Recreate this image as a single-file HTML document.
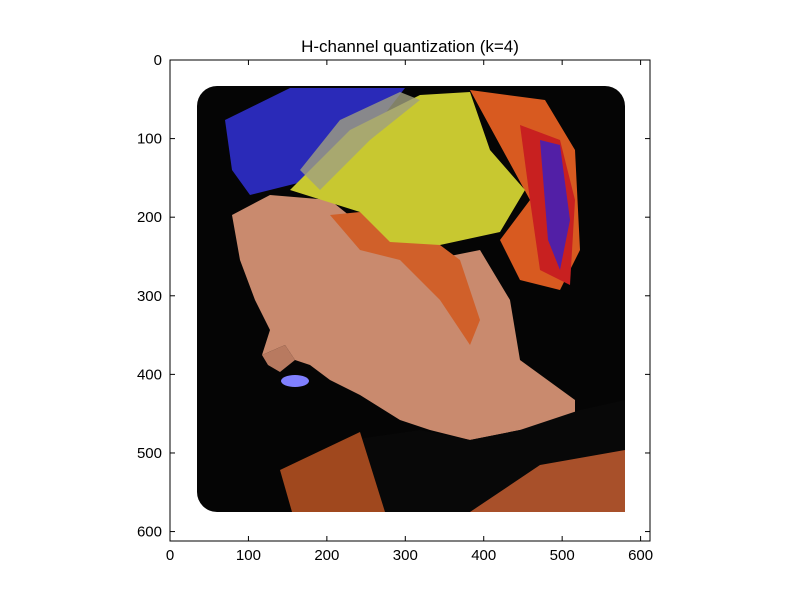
<!DOCTYPE html>
<html><head><meta charset="utf-8"><style>
body{margin:0;background:#fff;width:800px;height:600px;overflow:hidden;font-family:"Liberation Sans",sans-serif}
</style></head><body>
<svg width="800" height="600" xmlns="http://www.w3.org/2000/svg">
<rect width="800" height="600" fill="#fff"/>
<text x="410" y="52" text-anchor="middle" font-size="17" font-family="Liberation Sans, sans-serif">H-channel quantization (k=4)</text>
<g>
<rect x="197" y="86" width="428" height="426" rx="20" fill="#050505"/>
<polygon points="232,215 270,195 330,200 380,240 430,260 480,250 510,300 520,360 575,400 575,420 520,430 470,440 430,430 400,420 360,395 330,380 310,365 295,360 285,345 262,355 270,330 255,300 240,260" fill="#c98a6e"/>
<polygon points="262,355 285,345 295,360 280,372 268,365" fill="#b87a60"/>
<ellipse cx="295" cy="381" rx="14" ry="6" fill="#8080ff"/>
<polygon points="300,512 350,440 420,430 470,440 520,430 580,410 625,400 625,512" fill="#080808"/>
<polygon points="280,470 360,432 385,512 292,512" fill="#a0481e"/>
<polygon points="470,512 540,465 625,450 625,512" fill="#a8502a"/>
<polygon points="225,120 290,88 405,88 380,120 310,180 250,195 232,170" fill="#2a2ab8"/>
<polygon points="470,90 545,100 575,150 580,250 560,290 520,280 500,240 530,200" fill="#d85a20"/>
<polygon points="520,125 560,140 575,200 570,285 540,270 530,200" fill="#c82020"/>
<polygon points="540,140 560,145 570,220 560,270 548,240" fill="#2020e0" opacity="0.7"/>
<polygon points="330,215 380,210 420,230 460,260 480,320 470,345 440,300 400,260 360,250" fill="#d0602a"/>
<polygon points="290,190 350,130 420,95 470,92 490,150 525,190 500,232 440,245 390,242 360,212" fill="#c8c830"/>
<polygon points="300,170 340,120 400,92 420,100 370,140 320,190" fill="#a0a080" opacity="0.8"/>
</g>
<g id="axes"></g>
</svg>
<script>
const xTicks=[0,100,200,300,400,500,600];
const yTicks=[0,100,200,300,400,500,600];
const xMax=612, yMax=612;
const L=170,R=650,T=60,B=541;
const sx=v=>L+v*(R-L)/xMax, sy=v=>T+v*(B-T)/yMax;
const g=document.getElementById('axes');
const NS='http://www.w3.org/2000/svg';
function mk(t,a){const e=document.createElementNS(NS,t);for(const k in a)e.setAttribute(k,a[k]);g.appendChild(e);return e;}
const fr=mk('rect',{x:L,y:T,width:R-L,height:B-T,fill:'none',stroke:'#000','stroke-width':1});


xTicks.forEach(v=>{const x=sx(v);
const t1=mk('line',{x1:x,x2:x,y1:B,y2:B-5,stroke:'#000'});


const t2=mk('line',{x1:x,x2:x,y1:T,y2:T+5,stroke:'#000'});


const tx=mk('text',{x:x,y:B+19,'text-anchor':'middle','font-size':15});tx.textContent=v;

});
yTicks.forEach(v=>{const y=sy(v);
const t1=mk('line',{x1:L,x2:L+5,y1:y,y2:y,stroke:'#000'});


const t2=mk('line',{x1:R,x2:R-5,y1:y,y2:y,stroke:'#000'});


const tx=mk('text',{x:L-8,y:y+5,'text-anchor':'end','font-size':15});tx.textContent=v;

});
</script>
</body></html>
